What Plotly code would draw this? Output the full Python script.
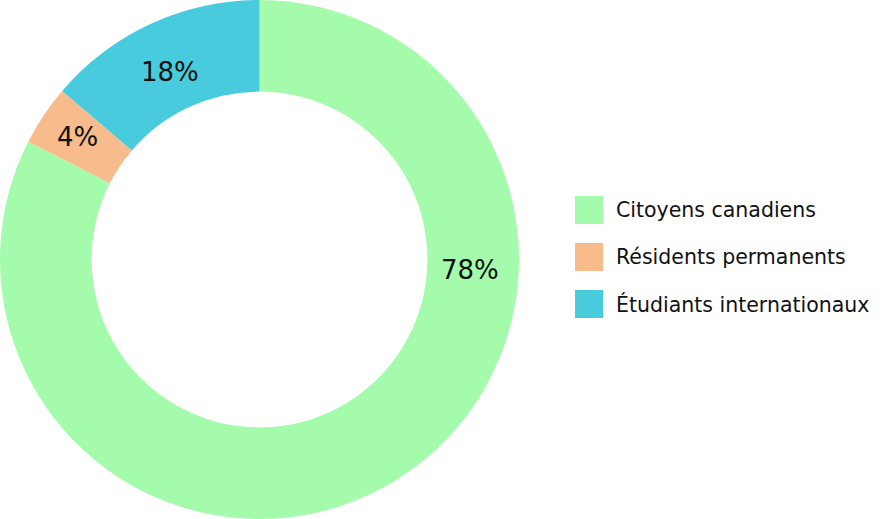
import plotly.graph_objects as go

categories = ["Citoyens canadiens", "Résidents permanents", "Étudiants internationaux"]
# arc shares as drawn in the picture
arc_values = [82.5, 3.75, 13.75]
# percentage labels as printed in the picture
label_texts = ["78%", "4%", "18%"]
colors = ["#a4fbab", "#f8bb8b", "#48cbdd"]

# label anchor positions in pixels (layout only)
label_px = [(470, 270), (77, 137), (170, 72)]

W, H = 882, 519
FONT = "DejaVu Sans"
fig = go.Figure()
fig.add_trace(go.Pie(
    labels=categories,
    values=arc_values,
    hole=0.647,
    sort=False,
    direction="clockwise",
    rotation=0,
    marker=dict(colors=colors, line=dict(width=0)),
    textinfo="none",
    domain=dict(x=[0, 519 / W], y=[0, 1]),
    showlegend=False,
    hoverinfo="label",
))

for txt, (px, py) in zip(label_texts, label_px):
    fig.add_annotation(xref="paper", yref="paper", x=px / W, y=1 - py / H,
                       text=txt, showarrow=False,
                       xanchor="center", yanchor="middle",
                       font=dict(size=26, color="#111111", family=FONT))

# custom legend
leg_x0 = 575
leg_y = [210, 257, 304]
sq = 28
for name, col, yc in zip(categories, colors, leg_y):
    fig.add_shape(type="rect", xref="paper", yref="paper",
                  x0=leg_x0 / W, x1=(leg_x0 + sq) / W,
                  y0=1 - (yc + sq / 2) / H, y1=1 - (yc - sq / 2) / H,
                  fillcolor=col, line=dict(width=0))
    fig.add_annotation(xref="paper", yref="paper", x=614 / W, y=1 - yc / H,
                       text=name, showarrow=False, xanchor="left", yanchor="middle",
                       font=dict(size=20.5, color="#111111", family=FONT))

fig.update_layout(
    width=W, height=H,
    margin=dict(l=0, r=0, t=0, b=0),
    paper_bgcolor="white", plot_bgcolor="white",
)
fig.write_html("out.html", config={"displayModeBar": False},
               post_script="document.body.style.margin='0';document.body.style.overflow='hidden';")
